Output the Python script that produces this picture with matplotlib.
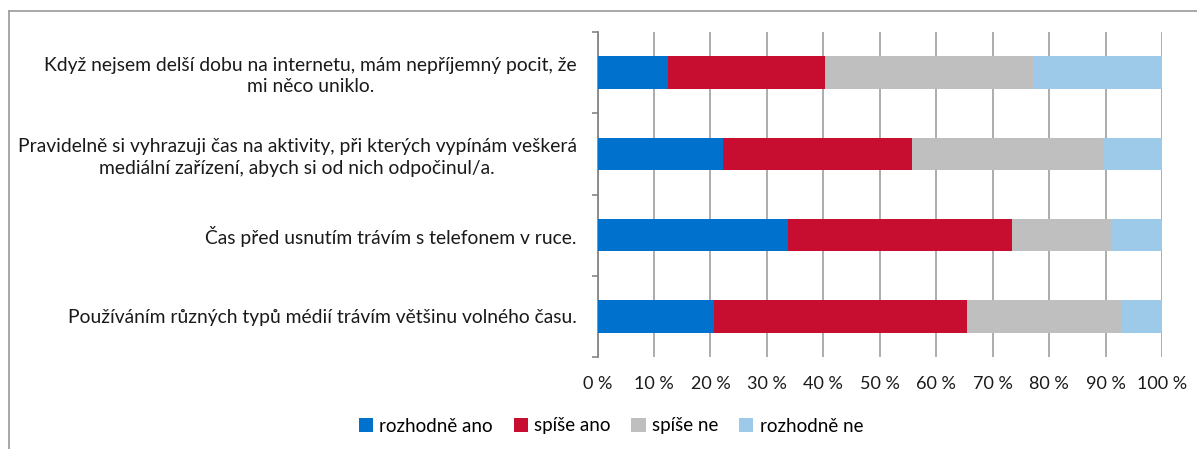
import matplotlib
matplotlib.use("Agg")
import matplotlib.pyplot as plt
from matplotlib.patches import Patch
from matplotlib.lines import Line2D
import numpy as np

plt.rcParams['font.family'] = ['Lato', 'DejaVu Sans']

categories = [
    "Když nejsem delší dobu na internetu, mám nepříjemný pocit, že\nmi něco uniklo.",
    "Pravidelně si vyhrazuji čas na aktivity, při kterých vypínám veškerá\nmediální zařízení, abych si od nich odpočinul/a.",
    "Čas před usnutím trávím s telefonem v ruce.",
    "Používáním různých typů médií trávím většinu volného času.",
]
series_names = ["rozhodně ano", "spíše ano", "spíše ne", "rozhodně ne"]
rozhodne_ano = [12.5, 22.2, 33.7, 20.6]
spise_ano = [27.8, 33.6, 39.8, 44.9]
spise_ne = [36.8, 33.7, 17.4, 27.4]
rozhodne_ne = [22.9, 10.5, 9.1, 7.1]
colors = ["#0072CE", "#C70E31", "#BFBFBF", "#9DCAE8"]
xticks = [0, 10, 20, 30, 40, 50, 60, 70, 80, 90, 100]
xtick_labels = [f"{v} %" for v in xticks]

W, H = 1197, 449
fig = plt.figure(figsize=(W / 100, H / 100), dpi=100)
ax = fig.add_axes([597.5 / W, 1 - 357 / H, (1162 - 597.5) / W, (357 - 32) / H])

y = np.arange(len(categories))
left = np.zeros(len(categories))
for vals, name, col in zip([rozhodne_ano, spise_ano, spise_ne, rozhodne_ne], series_names, colors):
    ax.barh(y, vals, left=left, height=0.4, color=col, label=name, zorder=3)
    left += np.array(vals)

ax.set_ylim(len(categories) - 0.5, -0.5)
ax.set_xlim(0, 100)
ax.set_xticks(xticks)
ax.set_xticklabels(xtick_labels, fontsize=13, color="#1a1a1a")
ax.tick_params(axis='x', length=0, pad=14)
ax.grid(axis='x', color="#A6A6A6", linewidth=1.3, zorder=0)

ax.set_yticks(y)
ax.set_yticklabels(categories, fontsize=13.9, color="#1a1a1a", multialignment='center',
                   linespacing=1.3)
ax.tick_params(axis='y', which='major', length=0, pad=15)
ax.set_yticks(np.arange(-0.5, len(categories)), minor=True)
ax.tick_params(axis='y', which='minor', length=4.5, width=1.2, color="#868686", direction='out')

for s in ['top', 'right', 'bottom']:
    ax.spines[s].set_visible(False)
ax.spines['left'].set_color("#868686")
ax.spines['left'].set_linewidth(1.3)

handles = [Patch(facecolor=c, edgecolor='none') for c in colors]
fig.legend(handles, series_names, loc='center', bbox_to_anchor=(611 / W, 1 - 426 / H),
           ncol=4, frameon=False, fontsize=13.5, handlelength=0.75, handleheight=0.75,
           handletextpad=0.35, columnspacing=1.1)

# chart border
fig.add_artist(Line2D([9 / W, 1.0], [1 - 11 / H, 1 - 11 / H], transform=fig.transFigure,
                      color="#A0A0A0", linewidth=1.3))
fig.add_artist(Line2D([9 / W, 9 / W], [0, 1 - 11 / H], transform=fig.transFigure,
                      color="#A0A0A0", linewidth=1.3))

fig.savefig("out.png", dpi=100, facecolor="white")
